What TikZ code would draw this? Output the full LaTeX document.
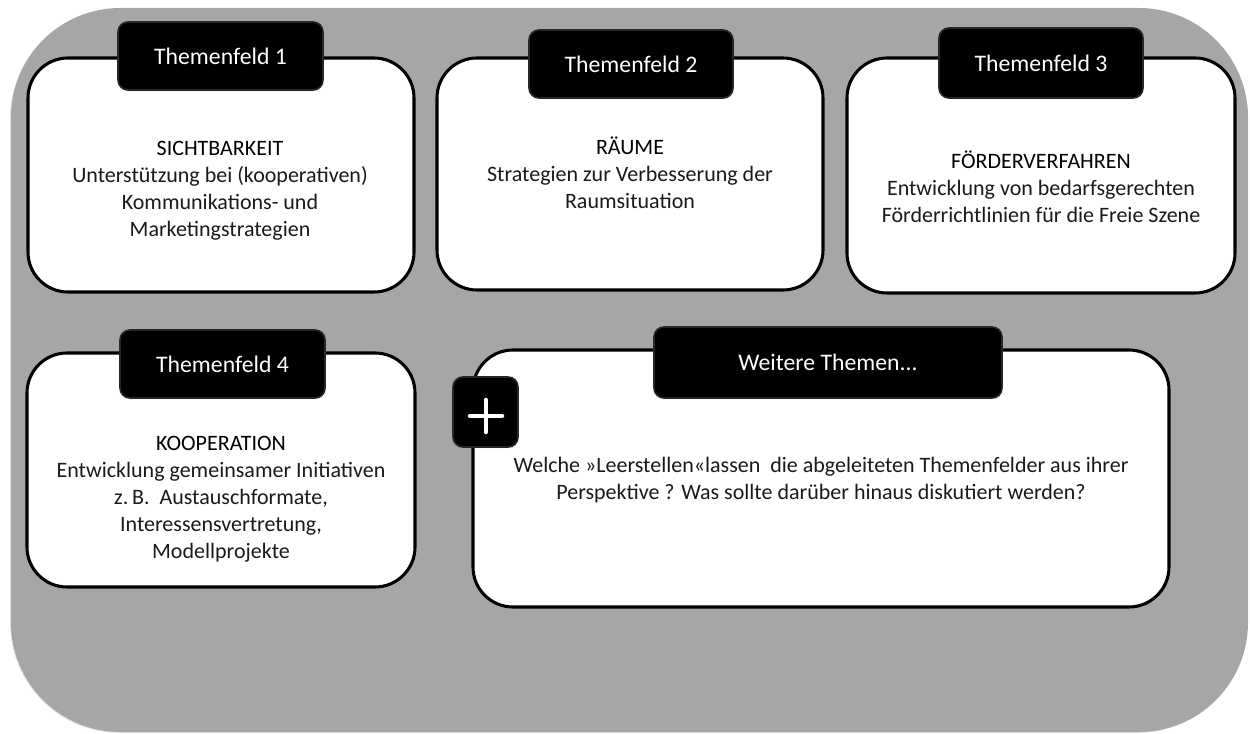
\documentclass[tikz,border=0pt]{standalone}
\usepackage{fontspec}
\setmainfont{Carlito}
\usetikzlibrary{shadows}
\definecolor{bggray}{HTML}{A6A6A6}
\definecolor{lblborder}{HTML}{262626}
\definecolor{bodytext}{HTML}{1A1A1A}
\tikzset{
  panel/.style={draw=black, line width=2.3pt, fill=white, rounded corners=30pt,
    drop shadow={opacity=0.25, shadow xshift=0.4pt, shadow yshift=-0.8pt}},
  tag/.style={draw=lblborder, line width=1.2pt, fill=black, rounded corners=7.5pt,
    text=white, font=\fontsize{17.8}{21}\selectfont, inner sep=0pt,
    drop shadow={opacity=0.3, shadow xshift=0.4pt, shadow yshift=-0.9pt}},
  bodytxt/.style={align=center, inner sep=0pt, text=bodytext,
    font=\fontsize{16.5}{20.2}\selectfont},
  plussign/.style={draw=white, line width=3.4pt, line cap=round}
}
\begin{document}
\begin{tikzpicture}[x=0.75pt, y=-0.75pt]
\useasboundingbox (0,0) rectangle (1250,734);
% background
\fill[bggray, rounded corners=82pt,
  drop shadow={opacity=0.25, shadow xshift=-0.6pt, shadow yshift=-0.6pt}]
  (11,8) rectangle (1248,732);

% panels
\draw[panel] (28,58) rectangle (414,292);
\draw[panel] (437,58) rectangle (823,290);
\draw[panel] (847,58) rectangle (1235,293);
\draw[panel] (27,353) rectangle (415,587);
\draw[panel] (473,350) rectangle (1169,607);

% tags
\node[tag, minimum width=205*0.75pt, minimum height=68*0.75pt] (l1) at (220.5,56) {Themenfeld 1};
\node[tag, minimum width=204*0.75pt, minimum height=68*0.75pt] (l2) at (631,64) {Themenfeld 2};
\node[tag, minimum width=204*0.75pt, minimum height=70*0.75pt] (l3) at (1041,63) {Themenfeld 3};
\node[tag, minimum width=205*0.75pt, minimum height=68*0.75pt] (l4) at (222.5,364) {Themenfeld 4};
\node[tag, minimum width=348*0.75pt, minimum height=71*0.75pt] (l5) at (828,362.5) {Weitere Themen...};

% plus box
\node[tag, minimum width=65*0.75pt, minimum height=70*0.75pt] (plus) at (485.5,412) {};
\coordinate (pc) at (486,416);
\draw[plussign] ([xshift=-12pt]pc) -- ([xshift=12pt]pc);
\draw[plussign] ([yshift=-12pt]pc) -- ([yshift=12pt]pc);

% texts
\node[bodytxt] (t1) at (220,191) {{\color{black}SICHTBARKEIT}\\Unterstützung bei (kooperativen)\\Kommunikations- und\\Marketingstrategien};
\node[bodytxt] (t2) at (630,173) {{\color{black}RÄUME}\\Strategien zur Verbesserung der\\Raumsituation};
\node[bodytxt] (t3) at (1041,187) {{\color{black}FÖRDERVERFAHREN}\\Entwicklung von bedarfsgerechten\\Förderrichtlinien für die Freie Szene};
\node[bodytxt] (t4) at (221,499) {{\color{black}KOOPERATION}\\Entwicklung gemeinsamer Initiativen\\z.\,B.~ Austauschformate,\\Interessensvertretung,\\Modellprojekte};
\node[bodytxt] (t5) at (821,480) {Welche »Leerstellen«lassen~ die abgeleiteten Themenfelder aus ihrer\\Perspektive ? Was sollte darüber hinaus diskutiert werden?};
\end{tikzpicture}
\end{document}
